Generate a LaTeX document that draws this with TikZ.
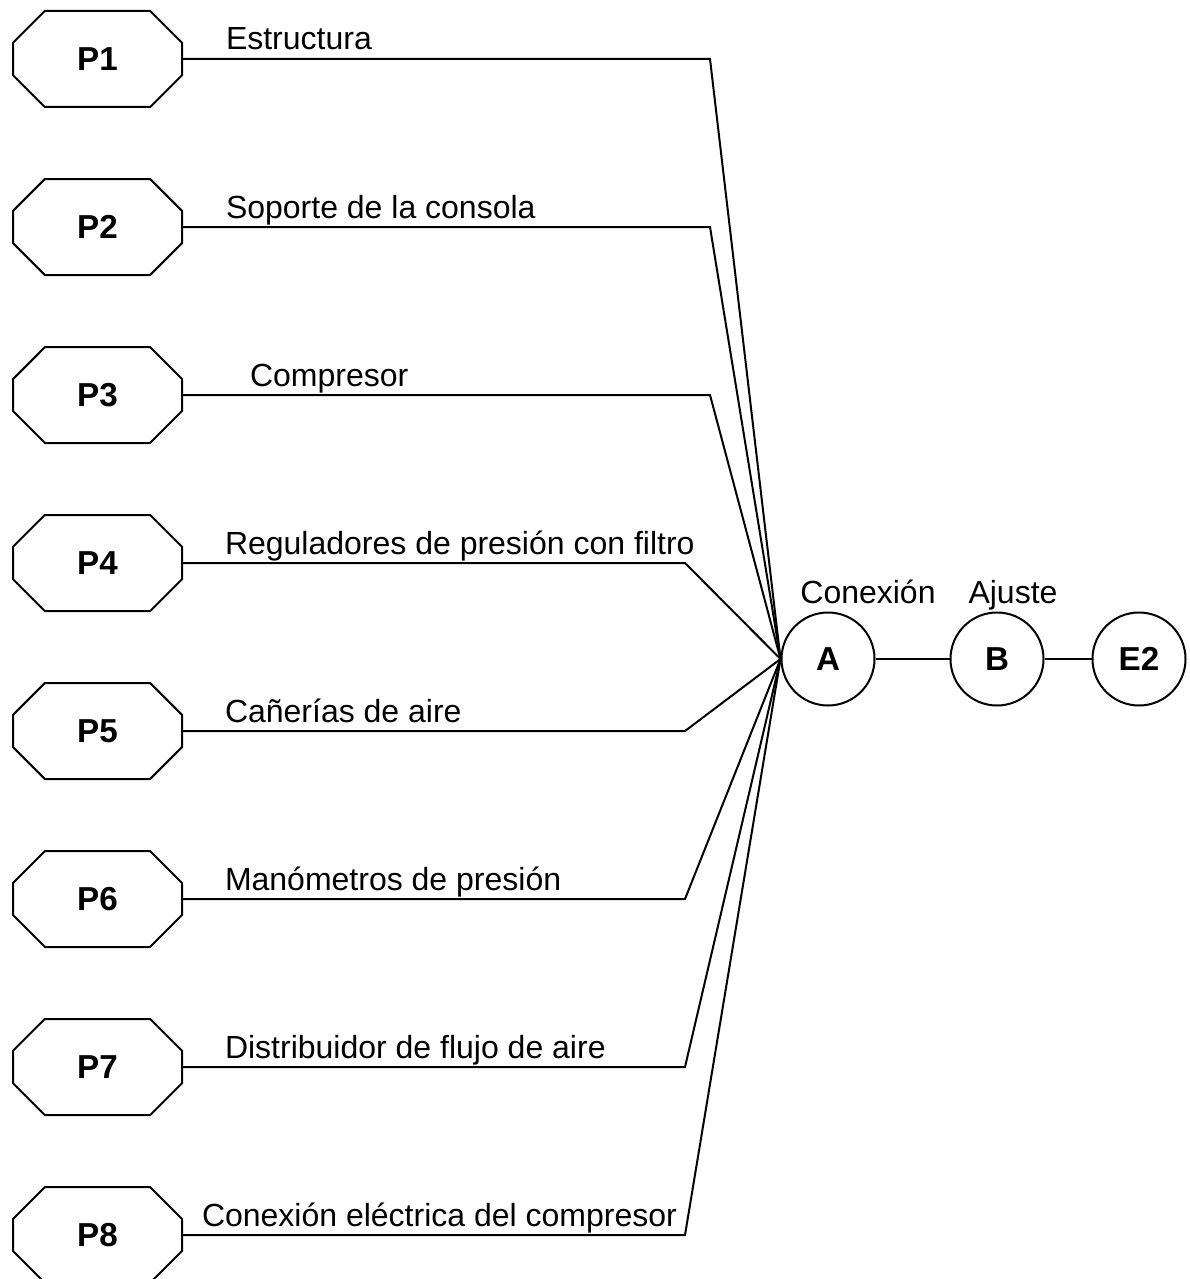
\documentclass[tikz,border=0pt]{standalone}
\usepackage{fontspec}
\setmainfont{Liberation Sans}
\usetikzlibrary{shapes.misc}
\begin{document}
\begin{tikzpicture}[x=0.5pt,y=-0.5pt,line width=1pt,
  every node/.style={font=\fontsize{16}{19}\selectfont},
  part/.style={draw,chamfered rectangle,chamfered rectangle xsep=14pt,
    chamfered rectangle ysep=14pt,minimum width=84.5pt,minimum height=48pt,
    inner sep=0pt,font=\fontsize{16.6}{20}\selectfont\bfseries},
  stage/.style={draw,circle,minimum size=46.5pt,inner sep=0pt,
    font=\fontsize{16.6}{20}\selectfont\bfseries},
  lbl/.style={anchor=base west,inner sep=0pt}]
\useasboundingbox (0,0) rectangle (1189,1279);

% assembly stages
\node[stage] (A) at (828,659) {A};
\node[stage] (B) at (997,659) {B};
\node[stage] (E) at (1139,659) {E2};
\node[anchor=base,inner sep=0pt] (lA) at (868,603) {Conexión};
\node[anchor=base,inner sep=0pt] (lB) at (1013,603) {Ajuste};
\draw (A) -- (B);
\draw (B) -- (E);

% parts P1..P8 with their names and bend points
\foreach \i/\lx/\bx/\txt in {
  1/225/710/Estructura,
  2/225/710/Soporte de la consola,
  3/249/710/Compresor,
  4/224/685/Reguladores de presión con filtro,
  5/224/685/Cañerías de aire,
  6/224/685/Manómetros de presión,
  7/224/685/Distribuidor de flujo de aire,
  8/201/685/Conexión eléctrica del compresor}{
  \pgfmathsetmacro{\yy}{59+168*(\i-1)}
  \node[part] (P\i) at (97.5,\yy) {P\i};
  \node[lbl] (t\i) at (\lx,\yy-9) {\txt};
  \coordinate (k\i) at (\bx,\yy);
  \draw (P\i.east) -- (k\i) -- (A.west);
}
\end{tikzpicture}
\end{document}
